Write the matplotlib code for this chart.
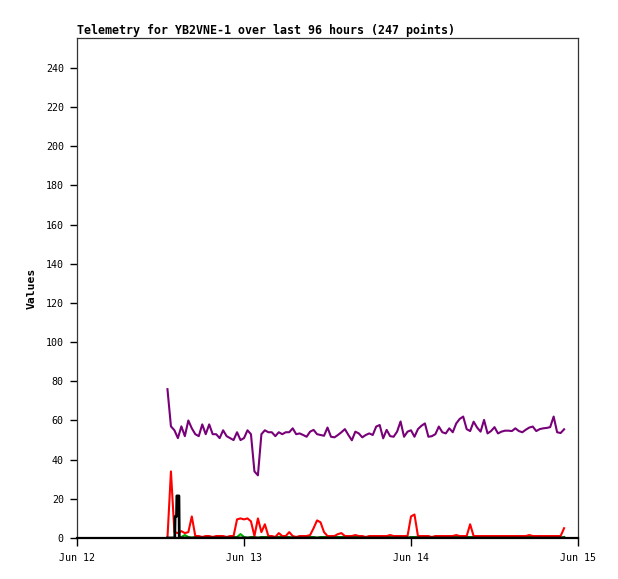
import numpy as np
import pandas as pd
import matplotlib
matplotlib.use("Agg")
import matplotlib.pyplot as plt
import matplotlib.dates as mdates

# sample times, hours after Jun 12 00:00 (30 min grid)
start_hour = 13.0
step_hour = 0.5

purple_vals = [
    76, 57, 55, 51, 57, 52, 60, 56, 53, 52, 58, 53, 58, 53, 53, 51, 55, 52, 51, 50,
    54, 50, 51, 55, 53, 34, 32, 53, 55, 54, 54, 52, 54, 53, 54, 54, 56, 53,
    53.4, 52.6, 51.7, 54.3, 55.2, 53, 52.6, 52.2, 56.4, 51.7, 51.4, 52.6, 54, 55.6,
    52.6, 49.9, 54.3, 53.4, 51.4, 52.6, 53.4, 52.6, 56.9, 57.7, 50.9, 55.2, 52, 51.7,
    54.3, 59.5, 51.7, 54.3, 55, 51.7, 55.6, 57.3, 58.5, 51.7,
    52, 53, 56.9, 54, 53.4, 56, 54, 58.5, 60.8, 62, 55.6, 54.6, 59.4, 56.4, 54.3,
    60.3, 53.4, 54.6, 56.6, 53.4, 54.3, 54.8, 54.8, 54.6, 56, 54.6, 54, 55.3, 56.4,
    56.9, 54.6, 55.6, 56, 56.2, 56.6, 62, 54, 53.6, 55.5,
]

red_vals = [
    0, 34, 3, 2.5, 3.5, 2.5, 3, 11, 1, 1, 0.5, 1, 1, 0.5, 1, 1, 1, 0.5, 1, 1,
    9.5, 10, 9.5, 10, 8.5, 1, 10, 3, 7, 1, 1, 0.5, 2.5, 1, 1, 3, 1, 0.5,
    1, 1, 1, 1.5, 5, 9, 8, 3, 1, 1, 1, 2, 2.5, 1, 1, 1, 1.5, 1, 1, 0.5,
    1, 1, 1, 1, 1, 1, 1.5, 1, 1, 1, 1, 1, 11, 12, 1, 1, 1, 1,
    0.5, 1, 1, 1, 1, 1, 1, 1.5, 1, 1, 1, 7, 1, 1, 1, 1, 1, 1, 1, 1,
    1, 1, 1, 1, 1, 1, 1, 1, 1.5, 1, 1, 1, 1, 1, 1, 1, 1, 1, 5,
]

green_vals = [
    0, 0, 0, 0, 0.5, 1.5, 0.5, 0, 0.5, 0.5, 0.5, 0, 0.5, 0.5, 0, 0.5, 0.5, 0, 0.5, 0.5,
    0.5, 2, 0.5, 0, 0.5, 0.5, 0, 0.5, 0.5, 0.5, 0, 0.5, 0.5, 1, 0.5, 0.5, 0, 0.5,
    0.5, 0, 0.5, 0.5, 0.5, 0, 0.5, 0.5, 0.5, 0, 0.5, 0.5, 0.5, 0.5, 0, 0.5, 0.5, 0.5,
    0, 0.5, 0.5, 0.5, 0, 0.5, 0.5, 0.5, 0.5, 0, 0.5, 0.5, 0.5, 0, 0.5, 0.5, 0.5, 0.5,
    0.5, 0.5, 0, 0.5, 0.5, 0.5, 0, 0.5, 0.5, 0.5, 0.5, 0, 0.5, 0.5, 0.5, 0.5, 0, 0.5,
    0.5, 0.5, 0, 0.5, 0.5, 0.5, 0.5, 0, 0.5, 0.5, 0.5, 0.5, 1, 0.5, 0, 0.5, 0.5, 0.5, 0.5,
    0.5, 0.5, 0, 0.5,
]

black_hours = [13.0, 14.05, 14.1, 14.3, 14.35, 14.65, 14.7, 70.0]
black_vals = [0, 0, 11, 11, 21.5, 21.5, 0, 0]

base = pd.Timestamp("2024-06-12")
grid_hours = start_hour + step_hour * np.arange(len(purple_vals))
t_grid = base + pd.to_timedelta(grid_hours, unit="h")
t_black = base + pd.to_timedelta(black_hours, unit="h")

mono = "DejaVu Sans Mono"
fig = plt.figure(figsize=(6.18, 5.79), dpi=100)
ax = fig.add_axes([77 / 618, 1 - 538 / 579, 501 / 618, 500 / 579])

ax.plot(t_grid, purple_vals, color="#780078", lw=1.5)
ax.plot(t_grid, green_vals, color="#00b000", lw=1.5)
ax.plot(t_grid, red_vals, color="#ff0000", lw=1.5)
ax.plot(t_black, black_vals, color="black", lw=2)

ax.set_xlim(base, base + pd.Timedelta(days=3))
ax.set_ylim(0, 255.3)
ax.set_yticks(np.arange(0, 241, 20))
ax.xaxis.set_major_locator(mdates.DayLocator())
ax.xaxis.set_major_formatter(mdates.DateFormatter("%b %d"))

for lab in ax.get_xticklabels() + ax.get_yticklabels():
    lab.set_fontfamily(mono)
    lab.set_fontsize(7.2)
ax.tick_params(axis="y", length=5, width=1, pad=4.5, colors="black")
ax.tick_params(axis="x", length=6, width=1, pad=4.5, colors="black")

for side in ["top", "left", "right"]:
    ax.spines[side].set_color("#333333")
    ax.spines[side].set_linewidth(0.9)
ax.spines["bottom"].set_color("black")
ax.spines["bottom"].set_linewidth(1.6)

ax.set_title("Telemetry for YB2VNE-1 over last 96 hours (247 points)",
             loc="left", fontfamily=mono, fontsize=8.35, fontweight="bold", pad=3)
ax.set_ylabel("Values", fontfamily=mono, fontsize=8.2, fontweight="bold")
ax.yaxis.set_label_coords(-0.08, 0.5)

fig.savefig("out.png", dpi=100)
